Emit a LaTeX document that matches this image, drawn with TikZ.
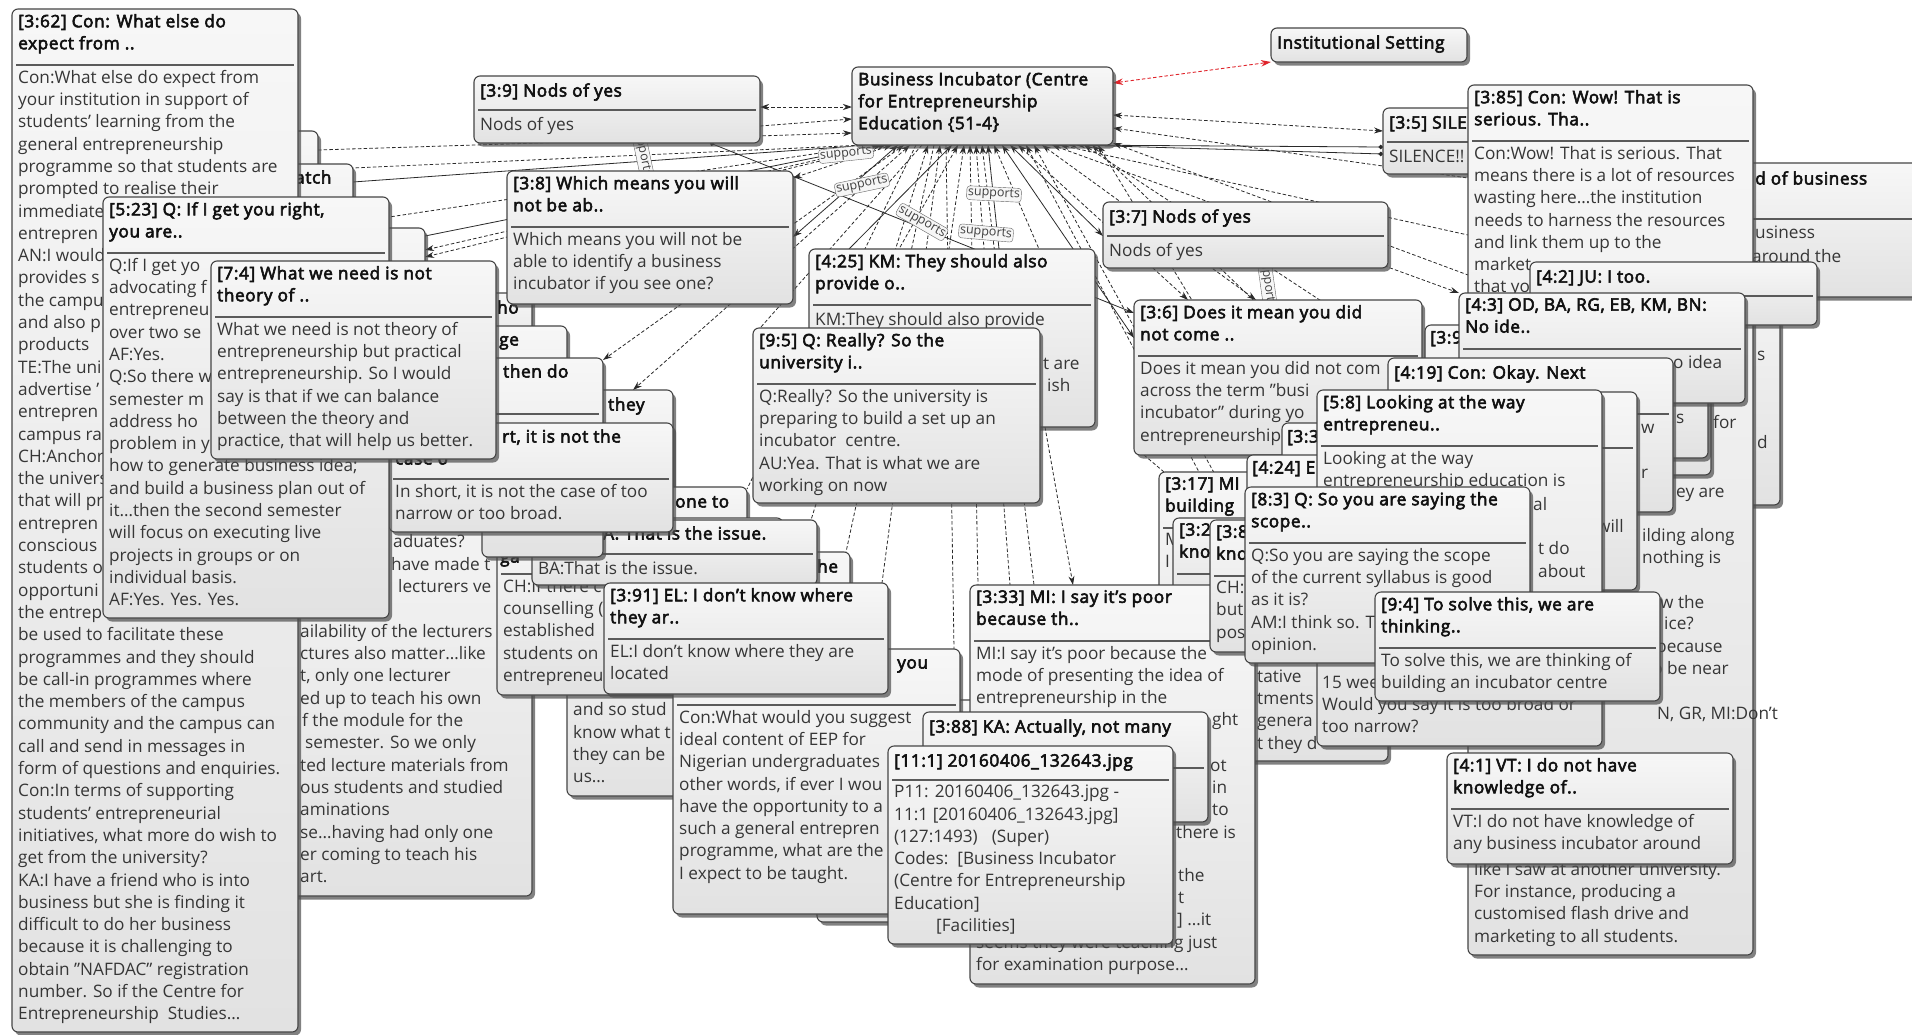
\documentclass[tikz,border=0pt]{standalone}
\usepackage{fontspec}
\setmainfont{Open Sans}
\newfontfamily\ttlfont{Open Sans}[FakeBold=3.4,LetterSpace=3.5]
\usetikzlibrary{arrows.meta,shadows}
\pgfdeclarelayer{bg}
\pgfdeclarelayer{links}
\pgfsetlayers{bg,links,main}
\definecolor{edgec}{HTML}{454545}
\definecolor{boxtop}{HTML}{F7F7F7}
\definecolor{boxbot}{HTML}{E2E2E2}
\definecolor{bodyc}{HTML}{363636}
\definecolor{ttlc}{HTML}{111111}
\definecolor{sepc}{HTML}{5A5A5A}
\definecolor{lkc}{HTML}{2A2A2A}
\definecolor{redlk}{HTML}{E0242B}
\tikzset{
  qbox/.style={draw=edgec, line width=1.1pt, rounded corners=6pt, top color=boxtop, bottom color=boxbot,
    anchor=north west, inner sep=0pt, outer sep=0pt,
    drop shadow={shadow xshift=3pt, shadow yshift=-3.5pt, fill=black!70, opacity=0.7}},
  ttl/.style={anchor=north west, inner sep=0pt, align=left, text=ttlc,
    font=\ttlfont\fontsize{17.2}{22}\selectfont, execute at begin node=\strut},
  bdy/.style={anchor=north west, inner sep=0pt, align=left, text=bodyc,
    font=\fontsize{17.2}{22.3}\selectfont, execute at begin node=\strut},
  frg/.style={anchor=base west, inner sep=0pt, text=bodyc, font=\fontsize{17.2}{22.3}\selectfont},
  frgb/.style={anchor=base west, inner sep=0pt, text=ttlc, font=\ttlfont\fontsize{17.2}{22}\selectfont},
  sepl/.style={draw=sepc, line width=1.1pt},
  lk/.style={draw=lkc, line width=0.8pt},
  dl/.style={lk, dash pattern=on 3.5pt off 2.2pt},
  redl/.style={draw=redlk, line width=0.9pt, dash pattern=on 3.5pt off 2.2pt,
    {Stealth[length=10pt,width=6.5pt,fill=redlk]}-{Stealth[length=10pt,width=6.5pt,fill=redlk]}},
  lbl/.style={draw=black!60, fill=white!93!gray, rounded corners=3pt, inner sep=1.3pt,
    font=\fontsize{12.5}{14}\selectfont, text=black!75},
}
% quotation box: name, x, y, width, height, title lines, title, body
\newcommand\qb[8]{%
  \node[qbox,minimum width=#4pt,minimum height=#5pt] (#1) at (#2,#3) {};
  \node[ttl] (#1t) at ({#2+6},{#3+5}) {#7};
  \draw[sepl] ({#2+4},{#3+34+22*(#6-1)}) -- ({#2+#4-4},{#3+34+22*(#6-1)});
  \node[bdy] (#1b) at ({#2+6},{#3+38.9+22*(#6-1)}) {#8};}
% code box: name, x, y, width, height, text
\newcommand\cb[6]{%
  \node[qbox,minimum width=#4pt,minimum height=#5pt] (#1) at (#2,#3) {};
  \node[ttl] (#1t) at ({#2+6},{#3+5}) {#6};}
% single text lines placed by their middle height
\newcounter{frc}
\newcommand\qtx[3]{\stepcounter{frc}\node[frg] (fr\thefrc) at (#1,{#2+5.5}) {#3};}
\newcommand\qtxb[3]{\stepcounter{frc}\node[frgb] (fr\thefrc) at (#1,{#2+5.5}) {#3};}

\begin{document}
\begin{tikzpicture}[x=1pt,y=-1pt,>={Stealth[length=9pt,width=6pt]}]
\begin{pgfonlayer}{bg}\fill[white] (0,0) rectangle (1912,1034);\end{pgfonlayer}
\useasboundingbox (0,0) rectangle (1912,1034);

%% ---------------- left group ----------------
\qb{b131}{100}{131}{218}{200}{1}{}{}
\qb{atch}{67}{164}{286}{180}{1}{}{}
\qtxb{295}{178}{atch}
\qb{b425}{139}{228}{286}{200}{1}{}{}
\qb{ho}{246}{293}{286}{66}{1}{}{}
\qtxb{497}{308}{ho}
\qb{ge}{281}{326}{286}{190}{1}{}{}
\qtxb{499}{340}{ge}
\qb{they}{387}{390}{286}{140}{1}{}{}
\qtxb{608}{405}{they}
\qb{gr}{246}{440}{286}{456}{1}{}{}
\qtx{393}{542}{aduates?}
\qtx{391}{565}{have made t}
\qtx{398}{587}{lecturers ve}
\qtx{300}{632}{ailability of the lecturers}
\qtx{300}{654}{ctures also matter…like}
\qtx{300}{676}{t, only one lecturer}
\qtx{300}{699}{ed up to teach his own}
\qtx{302}{721}{f the module for the}
\qtx{305}{743}{semester. So we only}
\qtx{300}{766}{ted lecture materials from}
\qtx{300}{788}{ous students and studied}
\qtx{300}{810}{aminations}
\qtx{300}{833}{se…having had only one}
\qtx{300}{855}{er coming to teach his}
\qtx{300}{877}{art.}
\qb{he}{567}{552}{283}{244}{2}{}{}
\qtxb{817}{567}{he}
\qtx{573}{710}{and so stud}
\qtx{573}{733}{know what t}
\qtx{573}{755}{they can be}
\qtx{573}{777}{us…}
\qb{onet}{505}{487}{242}{100}{1}{}{}
\qtxb{675}{502}{one to}
\qb{ch}{497}{518}{286}{177}{2}{}{CH:If there c\\counselling (\\established\\students on\\entrepreneu}
\qtxb{500}{557}{ga}
\qb{ba}{532}{520}{285}{65}{1}{}{BA:That is the issue.}
\qtxb{603}{534}{A: That is the issue.}
\qb{thendo}{482}{358}{121}{199}{2}{}{}
\qtxb{503}{372}{then do}
\qb{insh}{389}{423}{284}{109}{2}{}{In short, it is not the case of too\\narrow or too broad.}
\qtxb{502}{437}{rt, it is not the}
\qtxb{395}{459}{case o}
\qb{q362}{12}{9}{286}{1023}{2}{[3:62] Con: What else do\\expect from ..}{Con:What else do expect from\\your institution in support of\\students' learning from the\\general entrepreneurship\\programme so that students are\\prompted to realise their\\immediate\\entrepren\\AN:I would\\provides s\\the campu\\and also p\\products\\TE:The uni\\advertise '\\entrepren\\campus ra\\CH:Anchor\\the univers\\that will pr\\entrepren\\conscious\\students o\\opportuni\\the entrep\\be used to facilitate these\\programmes and they should\\be call-in programmes where\\the members of the campus\\community and the campus can\\call and send in messages in\\form of questions and enquiries.\\Con:In terms of supporting\\students' entrepreneurial\\initiatives, what more do wish to\\get from the university?\\KA:I have a friend who is into\\business but she is finding it\\difficult to do her business\\because it is challenging to\\obtain "NAFDAC" registration\\number. So if the Centre for\\Entrepreneurship\ \ Studies…}
\qb{q523}{103}{197}{286}{421}{2}{[5:23] Q: If I get you right,\\you are..}{Q:If I get yo\\advocating f\\entrepreneu\\over two se\\AF:Yes.\\Q:So there w\\semester m\\address ho\\problem in y\\how to generate business idea;\\and build a business plan out of\\it…then the second semester\\will focus on executing live\\projects in groups or on\\individual basis.\\AF:Yes. Yes. Yes.}
\qb{q74}{211}{261}{285}{198}{2}{[7:4] What we need is not\\theory of ..}{What we need is not theory of\\entrepreneurship but practical\\entrepreneurship. So I would\\say is that if we can balance\\between the theory and\\practice, that will help us better.}

%% ---------------- centre group ----------------
\qb{q39}{474}{76}{286}{67}{1}{[3:9] Nods of yes}{Nods of yes}
\qb{q38}{507}{171}{286}{133}{2}{[3:8] Which means you will\\not be ab..}{Which means you will not be\\able to identify a business\\incubator if you see one?}
\cb{bi}{852}{67}{261}{78}{Business Incubator (Centre\\for Entrepreneurship\\Education \{51-4\}}
\cb{inst}{1271}{28}{196}{34}{Institutional Setting}
\qb{q425}{809}{249}{286}{178}{2}{[4:25] KM: They should also\\provide o..}{KM:They should also provide}
\qtx{1043}{364}{t are}
\qtx{1047}{386}{ish}
\qb{q95}{753}{328}{287}{175}{2}{[9:5] Q: Really? So the\\university i..}{Q:Really? So the university is\\preparing to build a set up an\\incubator\ \ centre.\\AU:Yea. That is what we are\\working on now}
\qb{q37}{1103}{202}{285}{66}{1}{[3:7] Nods of yes}{Nods of yes}
\qb{cbk}{817}{700}{286}{222}{1}{}{}
\qb{con}{673}{649}{287}{265}{2}{}{Con:What would you suggest\\ideal content of EEP for\\Nigerian undergraduates\\other words, if ever I wou\\have the opportunity to a\\such a general entrepren\\programme, what are the\\I expect to be taught.}
\qtxb{897}{663}{you}
\qb{q391}{604}{583}{284}{111}{2}{[3:91] EL: I don’t know where\\they ar..}{EL:I don't know where they are\\located}

%% ---------------- right group ----------------
\qb{b1780}{1494}{250}{286}{255}{2}{}{}
\qtx{1757}{355}{s}
\qtx{1757}{443}{d}
\qb{dob}{1625}{163}{300}{134}{2}{}{}
\qtxb{1755}{179}{d of business}
\qtx{1755}{233}{usiness}
\qtx{1752}{257}{around the}
\qb{q35}{1383}{108}{286}{66}{1}{[3:5] SILENCE!!}{SILENCE!!}
\qb{q385}{1468}{85}{285}{870}{2}{[3:85] Con: Wow! That is\\serious. Tha..}{Con:Wow! That is serious. That\\means there is a lot of resources\\wasting here…the institution\\needs to harness the resources\\and link them up to the\\market\\that yo}
\qtx{1713}{423}{for}
\qtx{1676}{492}{ey are}
\qtx{1642}{536}{ilding along}
\qtx{1642}{558}{nothing is}
\qtx{1660}{603}{w the}
\qtx{1664}{624}{ice?}
\qtx{1656}{647}{because}
\qtx{1646}{669}{to be near}
\qtx{1657}{714}{N, GR, MI:Don't}
\qtx{1474}{870}{like I saw at another university.}
\qtx{1474}{892}{For instance, producing a}
\qtx{1474}{914}{customised flash drive and}
\qtx{1474}{937}{marketing to all students.}
\qb{q42}{1530}{262}{287}{63}{1}{[4:2] JU: I too.}{}
\qb{q39x}{1425}{325}{286}{150}{2}{}{}
\qtxb{1430}{338}{[3:9}
\qb{b1708}{1460}{330}{248}{128}{2}{}{}
\qtx{1676}{418}{s}
\qb{q43}{1459}{293}{286}{110}{2}{[4:3] OD, BA, RG, EB, KM, BN:\\No ide..}{}
\qtx{1673}{363}{o idea}
\qb{q36}{1134}{300}{288}{155}{2}{[3:6] Does it mean you did\\not come ..}{Does it mean you did not com\\across the term "busi\\incubator" during yo\\entrepreneurship}
\qb{q419}{1388}{358}{285}{154}{2}{[4:19] Con: Okay. Next}{}
\qtx{1641}{428}{w}
\qtx{1641}{473}{r}
\qb{b1637}{1352}{392}{285}{198}{2}{}{}
\qtx{1597}{527}{will}
\qb{q33x}{1282}{423}{286}{180}{2}{}{}
\qtxb{1287}{437}{[3:3}
\qb{q317}{1159}{472}{229}{289}{2}{[3:17] MI\\building}{M\\I}
\qtx{1257}{677}{tative}
\qtx{1257}{699}{tments}
\qtx{1257}{721}{genera}
\qtx{1257}{744}{t they d}
\qb{q424}{1247}{455}{286}{180}{2}{}{}
\qtxb{1252}{468}{[4:24] E}
\qb{q32x}{1173}{518}{286}{90}{2}{[3:2\\kno}{}
\qb{q333}{970}{585}{285}{399}{2}{[3:33] MI: I say it’s poor\\because th..}{MI:I say it's poor because the\\mode of presenting the idea of\\entrepreneurship in the}
\qtx{1212}{720}{ght}
\qtx{1210}{766}{ot}
\qtx{1212}{788}{in}
\qtx{1212}{810}{to}
\qtx{1176}{833}{there is}
\qtx{1178}{876}{the}
\qtx{1178}{898}{t}
\qtx{1177}{920}{] …it}
\qtx{976}{943}{seems they were teaching just}
\qtx{976}{965}{for examination purpose…}
\qb{q388}{923}{712}{285}{110}{2}{[3:88] KA: Actually, not many}{}
\qb{q111}{888}{746}{285}{198}{1}{[11:1] 20160406\_132643.jpg}{P11: 20160406\_132643.jpg -\\11:1 [20160406\_132643.jpg]\\(127:1493)\hspace{14pt}(Super)\\Codes:\hspace{9pt}[Business Incubator\\(Centre for Entrepreneurship\\Education]\\\hspace*{42pt}[Facilities]}
\qb{q58}{1317}{390}{285}{356}{2}{[5:8] Looking at the way\\entrepreneu..}{Looking at the way\\entrepreneurship education is}
\qtx{1533}{505}{al}
\qtx{1538}{549}{t do}
\qtx{1538}{572}{about}
\qtx{1322}{683}{15 wee}
\qtx{1322}{705}{Would you say it is too broad or}
\qtx{1322}{727}{too narrow?}
\qb{q38x}{1210}{520}{286}{132}{2}{[3:8\\kno}{CH:\\but\\pos}
\qb{q83}{1245}{487}{285}{176}{2}{[8:3] Q: So you are saying the\\scope..}{Q:So you are saying the scope\\of the current syllabus is good\\as it is?\\AM:I think so. T\\opinion.}
\qb{q94}{1375}{592}{285}{109}{2}{[9:4] To solve this, we are\\thinking..}{To solve this, we are thinking of\\building an incubator centre}
\qb{q41}{1447}{753}{286}{111}{2}{[4:1] VT: I do not have\\knowledge of..}{VT:I do not have knowledge of\\any business incubator around}

%% ---------------- links ----------------
\begin{pgfonlayer}{links}
% fan of links ending on the code box
\draw[dl,<-] ([xshift=14pt]bi.south west) -- ([yshift=-4pt]atch.north east);
\draw[lk,<-] ([xshift=18pt]bi.south west) -- ([yshift=-18pt]atch.north east);
\draw[dl,<-] ([xshift=22pt]bi.south west) -- ([yshift=-20pt]q523.north east);
\draw[lk,<-] ([xshift=26pt]bi.south west) -- ([yshift=-8pt]b425.north east);
\draw[dl,<->] ([xshift=30pt]bi.south west) -- ([yshift=-22pt]b425.north east);
\draw[dl,<->] ([xshift=34pt]bi.south west) -- ([yshift=-29pt]b425.north east);
\draw[dl,<->] ([xshift=40pt]bi.south west) -- ([yshift=-7pt]q38.north east);
\draw[lk,<->] ([xshift=46pt]bi.south west) -- ([yshift=-66pt]q38.north east);
\draw[dl,<->] ([xshift=52pt]bi.south west) -- ([yshift=-2pt]thendo.north east);
\draw[dl,<->] ([xshift=58pt]bi.south west) -- ([xshift=-40pt]they.north east);
\draw[dl] ([xshift=64pt]bi.south west) -- ([yshift=-2pt]onet.north east);
\draw[dl] ([xshift=70pt]bi.south west) -- ([yshift=-8pt]q95.north west);
\draw[dl,<-] ([xshift=76pt]bi.south west) -- ([xshift=-6pt]ba.north east);
\draw[dl] ([xshift=82pt]bi.south west) -- ([xshift=-4pt]he.north east);
\draw[dl,<-] ([xshift=88pt]bi.south west) -- ([xshift=-6pt]q391.north east);
\draw[dl] ([xshift=94pt]bi.south west) -- ([xshift=-6pt]con.north east);
\draw[lk,<-] ([xshift=100pt]bi.south west) -- ([xshift=40pt]q425.north west);
\draw[dl,<-] ([xshift=106pt]bi.south west) -- ([xshift=90pt]q425.north west);
\draw[dl,<-] ([xshift=112pt]bi.south west) -- ([xshift=140pt]q425.north west);
\draw[dl,<-] ([xshift=118pt]bi.south west) -- ([xshift=8pt]q333.north west);
\draw[dl,<-] ([xshift=124pt]bi.south west) -- ([xshift=40pt]q333.north west);
\draw[dl,<-] ([xshift=130pt]bi.south west) -- ([xshift=64pt]q333.north west);
\draw[lk,<-] ([xshift=136pt]bi.south west) -- ([xshift=190pt]q425.north west);
\draw[dl,<-] ([xshift=142pt]bi.south west) -- ([xshift=230pt]q425.north west);
\draw[lk,<->] ([xshift=150pt]bi.south west) -- ([yshift=-38pt]q36.north west);
\draw[lk,<->] ([xshift=158pt]bi.south west) -- ([yshift=-34pt]q37.north west);
\draw[dl,<->] ([xshift=166pt]bi.south west) -- ([xshift=54pt]q36.north west);
\draw[dl,<-] ([xshift=174pt]bi.south west) -- ([xshift=40pt]q317.north west);
\draw[dl,<-] ([xshift=182pt]bi.south west) -- ([xshift=30pt]q38x.north west);
\draw[dl,<->] ([xshift=190pt]bi.south west) -- ([xshift=122pt]q36.north west);
\draw[dl,<->] ([xshift=200pt]bi.south west) -- (q43.north west);
\draw[dl,<-] ([xshift=208pt]bi.south west) -- ([yshift=-150pt]q385.north west);
\draw[lk,{Stealth[length=9pt,width=6pt]}-{Circle[length=4.5pt]}] ([xshift=216pt]bi.south west) -- ([yshift=-39pt]q35.north west);
\draw[lk,{Stealth[length=9pt,width=6pt]}-{Circle[length=4.5pt]}] ([xshift=224pt]bi.south west) -- ([yshift=-46pt]q35.north west);
\draw[dl,<-] ([xshift=232pt]bi.south west) -- ([xshift=20pt]q419.north west);
\draw[dl,<-] ([xshift=240pt]bi.south west) -- ([xshift=30pt]q58.north west);
\draw[dl,<-] ([xshift=246pt]bi.south west) -- ([xshift=60pt]q83.north west);
% links on the sides of the code box
\draw[dl,<->] ([yshift=-48pt]bi.north east) -- ([yshift=-23pt]q35.north west);
\draw[dl,<-] ([yshift=-61pt]bi.north east) -- ([yshift=-93pt]q385.north west);
\draw[dl,<-] ([yshift=-76pt]bi.north east) -- ([yshift=-190pt]q385.north west);
\draw[redl] ([yshift=-16pt]bi.north east) -- (inst.south west);
\draw[dl,<->] ([yshift=-31pt]q39.north east) -- ([yshift=-40pt]bi.north west);
\draw[dl,->] ([yshift=-50pt]q39.north east) -- ([yshift=-52pt]bi.north west);
\draw[dl,->] ([yshift=-19pt]b131.north east) -- ([yshift=-66pt]bi.north west);
\draw[dl,->] ([xshift=160pt]q39.south west) -- ([xshift=137pt]q38.north west);
\draw[lk,{Circle[length=4.5pt]}->] ([xshift=236pt]q39.south west) -- ([yshift=-13pt]q36.north west);
\draw[dl,->] ([xshift=236pt]q425.south west) -- ([xshift=103pt]q333.north west);
\draw[dl] ([xshift=10pt]q36.south west) -- ([xshift=5pt]q317.north west);
% relation labels
\node[lbl,rotate=6] (s1) at (846,154) {supports};
\node[lbl,rotate=12] (s2) at (862,185) {supports};
\node[lbl,rotate=-5] (s5) at (986,233) {supports};
\node[lbl,rotate=-3] (s4) at (994,194) {supports};
\node[lbl,rotate=-30] (s3) at (922,222) {supports};
\node[lbl,rotate=-78] (s6) at (642,151) {supports};
\node[lbl,rotate=-82] (s7) at (1267,282) {supports};
\end{pgfonlayer}
\end{tikzpicture}
\end{document}
